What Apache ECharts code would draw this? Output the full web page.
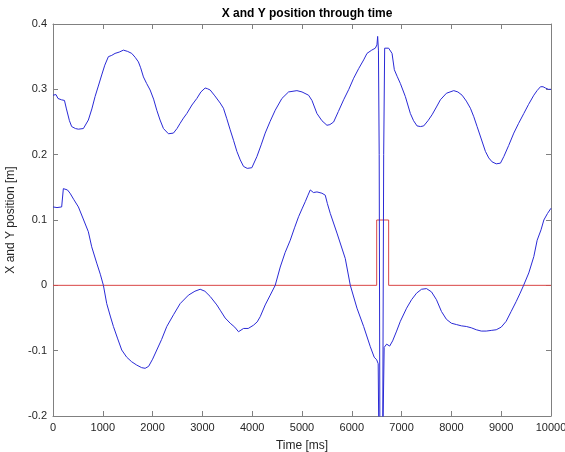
<!DOCTYPE html>
<html><head><meta charset="utf-8">
<script src="https://cdn.jsdelivr.net/npm/echarts@6/dist/echarts.min.js"></script>
<style>html,body{margin:0;padding:0;background:#fff}#c{width:565px;height:452px}</style>
</head><body><div id="c"></div>
<script>
const xTime = [0,60,100,170,230,270,330,375,450,510,610,710,780,845,910,978,1040,1112,1180,1246,1330,1414,1500,1581,1650,1715,1760,1816,1880,1950,2020,2084,2150,2218,2318,2418,2490,2553,2620,2687,2790,2888,2970,3055,3100,3156,3250,3357,3423,3490,3558,3625,3692,3760,3826,3900,3993,4094,4180,4261,4360,4462,4596,4730,4898,5000,5132,5200,5300,5400,5501,5560,5635,5730,5836,5940,6037,6140,6238,6305,6400,6472,6505,6519,6535,6550,6565,6620,6640,6660,6700,6740,6808,6854,6910,6975,7075,7176,7240,7310,7380,7444,7530,7611,7700,7779,7900,8047,8130,8215,8300,8382,8450,8516,8600,8683,8750,8817,8900,8985,9052,9150,9253,9350,9454,9550,9655,9720,9789,9840,9889,9950,10000];
const xPos = [0.291,0.292,0.286,0.284,0.283,0.270,0.252,0.243,0.240,0.239,0.240,0.253,0.270,0.289,0.305,0.322,0.337,0.350,0.352,0.355,0.357,0.360,0.358,0.355,0.349,0.342,0.333,0.319,0.309,0.299,0.285,0.268,0.253,0.240,0.232,0.233,0.240,0.248,0.256,0.263,0.276,0.286,0.296,0.302,0.301,0.299,0.290,0.279,0.271,0.255,0.238,0.222,0.205,0.192,0.182,0.179,0.180,0.197,0.215,0.233,0.251,0.268,0.286,0.296,0.298,0.296,0.291,0.283,0.263,0.252,0.245,0.246,0.250,0.266,0.284,0.300,0.317,0.332,0.345,0.355,0.360,0.363,0.368,0.381,0.360,0.200,-0.250,-0.250,0.200,0.363,0.365,0.363,0.355,0.330,0.320,0.309,0.289,0.263,0.252,0.244,0.243,0.244,0.252,0.261,0.273,0.284,0.294,0.298,0.296,0.291,0.282,0.271,0.258,0.243,0.224,0.205,0.195,0.189,0.186,0.187,0.197,0.214,0.233,0.248,0.263,0.277,0.291,0.298,0.304,0.304,0.302,0.300,0.300];

const yTime = [0,80,174,195,208,241,290,342,420,510,600,710,777,878,950,1012,1079,1150,1213,1300,1380,1480,1580,1680,1780,1850,1920,2000,2084,2180,2285,2420,2553,2720,2850,2955,3050,3156,3290,3357,3457,3558,3650,3725,3826,3920,4027,4100,4161,4261,4362,4462,4563,4660,4764,4850,4931,5000,5065,5120,5166,5230,5300,5400,5467,5510,5568,5702,5869,5970,6104,6238,6372,6450,6500,6530,6545,6620,6650,6700,6760,6820,6900,6975,7100,7200,7300,7400,7500,7600,7700,7800,7900,8000,8100,8200,8300,8400,8500,8600,8700,8800,8900,9000,9100,9200,9300,9380,9450,9554,9655,9722,9800,9856,9930,10000];
const yPos = [0.120,0.119,0.120,0.121,0.148,0.149,0.146,0.141,0.131,0.120,0.103,0.082,0.059,0.034,0.017,0.000,-0.028,-0.047,-0.063,-0.082,-0.099,-0.110,-0.117,-0.122,-0.126,-0.127,-0.124,-0.113,-0.099,-0.083,-0.063,-0.045,-0.028,-0.015,-0.009,-0.006,-0.009,-0.017,-0.030,-0.038,-0.050,-0.058,-0.064,-0.071,-0.066,-0.066,-0.061,-0.056,-0.048,-0.030,-0.015,0.000,0.028,0.050,0.069,0.088,0.105,0.117,0.128,0.138,0.146,0.142,0.143,0.141,0.138,0.125,0.110,0.080,0.041,0.000,-0.035,-0.063,-0.094,-0.110,-0.114,-0.120,-0.250,-0.250,-0.095,-0.090,-0.093,-0.085,-0.070,-0.055,-0.035,-0.022,-0.012,-0.006,-0.005,-0.010,-0.022,-0.040,-0.052,-0.058,-0.060,-0.062,-0.063,-0.065,-0.068,-0.070,-0.070,-0.069,-0.068,-0.064,-0.055,-0.040,-0.025,-0.012,0.000,0.019,0.044,0.069,0.085,0.100,0.110,0.118];

const refTime = [0,6500,6500,6740,6740,10000];
const refPos = [0,0,0.1,0.1,0,0];

const xTicks = [0,1000,2000,3000,4000,5000,6000,7000,8000,9000,10000];
const yTicks = [-0.2,-0.1,0,0.1,0.2,0.3,0.4];

const zip = (a,b) => a.map((v,i)=>[v,b[i]]);
const FONT = 'Liberation Sans, Arial, sans-serif';
const axCol = '#808080';
const txtCol = '#262626';

const chart = echarts.init(document.getElementById('c'), null, {renderer:'canvas'});
const xCommon = {type:'value', min:xTicks[0], max:xTicks[xTicks.length-1], interval:1000,
  axisLine:{show:true, onZero:false, lineStyle:{color:axCol,width:1}},
  axisTick:{show:true, inside:true, length:5, lineStyle:{color:axCol}},
  splitLine:{show:false}};
const yCommon = {type:'value', min:yTicks[0], max:yTicks[yTicks.length-1], interval:0.1,
  axisLine:{show:true, onZero:false, lineStyle:{color:axCol,width:1}},
  axisTick:{show:true, inside:true, length:5, lineStyle:{color:axCol}},
  splitLine:{show:false}};
chart.setOption({
  animation:false,
  title:{text:'X and Y position through time', left:302, top:3, textAlign:'center',
    textStyle:{fontFamily:FONT, fontSize:12, fontWeight:'bold', color:'#000'}},
  grid:{left:53, right:14, top:24, bottom:36, containLabel:false, outerBoundsMode:'none'},
  xAxis:[
    Object.assign({}, xCommon, {position:'bottom', name:'Time [ms]', nameLocation:'middle', nameGap:24,
      nameTextStyle:{fontFamily:FONT, fontSize:12, color:txtCol},
      axisLabel:{fontFamily:FONT, fontSize:11, color:txtCol, margin:6, formatter:v=>String(v)}}),
    Object.assign({}, xCommon, {position:'top', axisLabel:{show:false}})
  ],
  yAxis:[
    Object.assign({}, yCommon, {position:'left', name:'X and Y position [m]', nameLocation:'middle', nameGap:33,
      nameTextStyle:{fontFamily:FONT, fontSize:12, color:txtCol},
      axisLabel:{fontFamily:FONT, fontSize:11, color:txtCol, margin:6,
        formatter:v=>String(Math.round(v*10)/10)}}),
    Object.assign({}, yCommon, {position:'right', axisLabel:{show:false}})
  ],
  series:[
    {type:'line', data:zip(refTime,refPos), symbol:'none', lineStyle:{color:'#d94545', width:1}, clip:true},
    {type:'line', data:zip(xTime,xPos), symbol:'none', lineStyle:{color:'#2a2ad6', width:1}, clip:true},
    {type:'line', data:zip(yTime,yPos), symbol:'none', lineStyle:{color:'#2a2ad6', width:1}, clip:true}
  ]
});
</script></body></html>
